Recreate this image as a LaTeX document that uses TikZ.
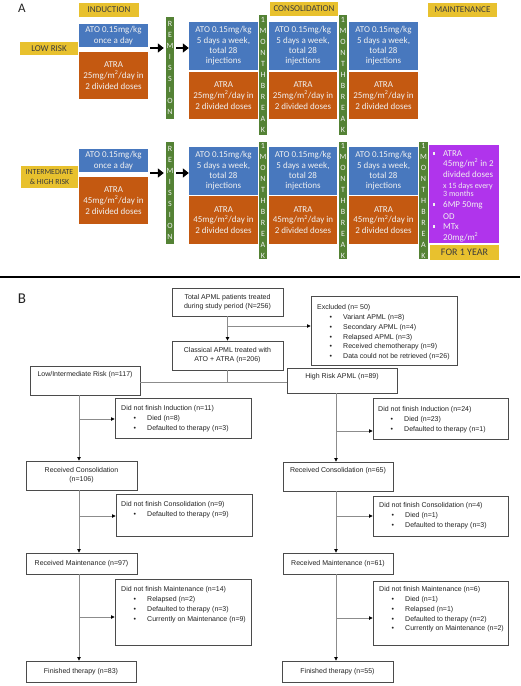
\documentclass[tikz,border=0pt]{standalone}
\usepackage{fontspec}
\setmainfont{Carlito}
\newfontfamily\arialf{Liberation Sans}
\usetikzlibrary{arrows.meta,calc}
\definecolor{hdryel}{RGB}{232,193,46}
\definecolor{atoblue}{RGB}{72,120,190}
\definecolor{atraor}{RGB}{196,89,17}
\definecolor{brkgreen}{RGB}{84,130,53}
\definecolor{mpurple}{RGB}{176,52,236}
\definecolor{boxtext}{RGB}{240,240,240}
\definecolor{hdrtext}{RGB}{60,60,60}
\definecolor{lnGray}{RGB}{140,140,140}
\definecolor{bxGray}{RGB}{75,75,75}
\definecolor{txtdark}{RGB}{35,35,35}
\newcommand{\placebox}[7]{\node[#6, minimum width={(#4-#2)*1pt}, minimum height={(#5-#3)*1pt}] (#1) at ({(#2+#4)/2},{(#3+#5)/2}) {#7};}
\newcommand{\fbul}{\makebox[26pt][l]{\hspace{12.3pt}\textbullet}}
\newcommand{\atotxt}{ATO 0.15mg/kg\\5 days a week,\\total 28\\injections}
\begin{document}
\begin{tikzpicture}[x=1pt,y=-1pt,
  hdr/.style={fill=hdryel, text=hdrtext, inner sep=0pt, align=center, font=\fontsize{9}{10}\selectfont},
  ato/.style={fill=atoblue, text=boxtext, inner sep=1pt, align=center, font=\fontsize{9}{10.4}\selectfont},
  atra/.style={fill=atraor, text=boxtext, inner sep=1pt, align=center, font=\fontsize{9}{10.8}\selectfont},
  gbar/.style={fill=brkgreen, text=boxtext, inner sep=0pt, align=center, font=\fontsize{8}{11}\selectfont},
  mbox/.style={fill=mpurple, inner sep=0pt},
  mtxt/.style={anchor=base west, inner sep=0pt, text=boxtext, font=\fontsize{9}{10}\selectfont},
  msml/.style={mtxt, font=\fontsize{8}{9}\selectfont},
  bigarr/.style={line width=2.6pt, -{Triangle[length=6pt,width=9pt]}},
  fbox/.style={draw=bxGray, line width=0.7pt, fill=white, inner sep=1pt, align=center, text=txtdark, font=\arialf\fontsize{7}{9}\selectfont},
  ftext/.style={inner sep=0pt, align=left, anchor=north west, text=txtdark, font=\arialf\fontsize{7}{9.8}\selectfont},
  fline/.style={draw=lnGray, line width=0.7pt},
  farr/.style={fline, -{Triangle[length=3.5pt,width=3.4pt,color=black]}}
]
\useasboundingbox (0,0) rectangle (520,686);
\fill[white] (0,0) rectangle (520,686);

% ---------- Part A ----------
\node[text=txtdark, inner sep=0pt, font=\fontsize{13}{14}\selectfont] (labA) at (22,8) {A};
\placebox{hind}{79}{3}{139}{17}{hdr}{INDUCTION}
\placebox{hcon}{270}{2}{338}{16}{hdr}{CONSOLIDATION}
\placebox{hmain}{428}{3}{497}{17}{hdr}{MAINTENANCE}

% row 1
\placebox{lowrisk}{20}{42}{78}{55}{hdr}{LOW RISK}
\placebox{iato1}{79}{24}{148}{47}{ato}{ATO 0.15mg/kg\\once a day}
\placebox{iatra1}{79}{52}{148}{99}{atra}{ATRA\\25mg/m\textsuperscript{2}/day in\\2 divided doses}
\placebox{rem1}{166}{17}{174}{119}{gbar}{R\\E\\M\\I\\S\\S\\I\\O\\N}
\placebox{caa1}{189}{22}{258}{70}{ato}{\atotxt}
\placebox{car1}{189}{72}{258}{119}{atra}{ATRA\\25mg/m\textsuperscript{2}/day in\\2 divided doses}
\placebox{brka1}{259}{15}{267}{135}{gbar}{1\\M\\O\\N\\T\\H\\B\\R\\E\\A\\K}
\placebox{cba1}{269}{22}{337}{70}{ato}{\atotxt}
\placebox{cbr1}{269}{72}{337}{119}{atra}{ATRA\\25mg/m\textsuperscript{2}/day in\\2 divided doses}
\placebox{brkb1}{339}{15}{347}{135}{gbar}{1\\M\\O\\N\\T\\H\\B\\R\\E\\A\\K}
\placebox{cca1}{349}{22}{418}{70}{ato}{\atotxt}
\placebox{ccr1}{349}{72}{418}{119}{atra}{ATRA\\25mg/m\textsuperscript{2}/day in\\2 divided doses}
\coordinate (r1y) at (0,48);
\draw[bigarr] ([xshift=2pt]iato1.east |- r1y) -- ([xshift=-2pt]rem1.west |- r1y);
\draw[bigarr] ([xshift=2pt]rem1.east |- r1y) -- (caa1.west |- r1y);

% row 2
\placebox{highrisk}{21}{166}{78}{188}{hdr, font=\fontsize{7.8}{9.3}\selectfont}{INTERMEDIATE\\\& HIGH RISK}
\placebox{iato2}{79}{149}{148}{172}{ato}{ATO 0.15mg/kg\\once a day}
\placebox{iatra2}{79}{177}{148}{224}{atra}{ATRA\\45mg/m\textsuperscript{2}/day in\\2 divided doses}
\placebox{rem2}{166}{142}{174}{244}{gbar}{R\\E\\M\\I\\S\\S\\I\\O\\N}
\placebox{caa2}{189}{147}{258}{195}{ato}{\atotxt}
\placebox{car2}{189}{196}{258}{244}{atra}{ATRA\\45mg/m\textsuperscript{2}/day in\\2 divided doses}
\placebox{brka2}{259}{142}{267}{259}{gbar}{1\\M\\O\\N\\T\\H\\B\\R\\E\\A\\K}
\placebox{cba2}{269}{147}{337}{195}{ato}{\atotxt}
\placebox{cbr2}{269}{196}{337}{244}{atra}{ATRA\\45mg/m\textsuperscript{2}/day in\\2 divided doses}
\placebox{brkb2}{339}{142}{347}{259}{gbar}{1\\M\\O\\N\\T\\H\\B\\R\\E\\A\\K}
\placebox{cca2}{349}{147}{418}{195}{ato}{\atotxt}
\placebox{ccr2}{349}{196}{418}{244}{atra}{ATRA\\45mg/m\textsuperscript{2}/day in\\2 divided doses}
\placebox{brkc2}{419}{142}{428}{259}{gbar}{1\\M\\O\\N\\T\\H\\B\\R\\E\\A\\K}
\placebox{maint}{429}{145}{499}{243}{mbox}{}
\placebox{oneyr}{430}{245}{499}{260}{hdr, font=\fontsize{10}{11}\selectfont}{FOR 1 YEAR}
\coordinate (r2y) at (0,173);
\draw[bigarr] ([xshift=2pt]iato2.east |- r2y) -- ([xshift=-2pt]rem2.west |- r2y);
\draw[bigarr] ([xshift=2pt]rem2.east |- r2y) -- (caa2.west |- r2y);

% maintenance text
\node[mtxt] (mb1) at (433,154.5) {\rule{2.2pt}{2.2pt}};
\node[mtxt] (mb2) at (433,205.5) {\rule{2.2pt}{2.2pt}};
\node[mtxt] (mb3) at (433,227.5) {\rule{2.2pt}{2.2pt}};
\node[mtxt] (m1) at (443,156) {ATRA};
\node[mtxt] (m2) at (443,166) {45mg/m\textsuperscript{2} in 2};
\node[mtxt] (m3) at (443,177) {divided doses};
\node[msml] (m4) at (443,188.6) {x 15 days every};
\node[msml] (m5) at (443,196.6) {3 months};
\node[mtxt] (m6) at (443,207) {6MP 50mg};
\node[mtxt] (m7) at (443,219) {OD};
\node[mtxt] (m8) at (443,229) {MTx};
\node[mtxt] (m9) at (443,240) {20mg/m\textsuperscript{2}};

% divider
\draw[line width=1.6pt, black] (0,277) -- (520,277);

% ---------- Part B ----------
\node[text=txtdark, inner sep=0pt, font=\fontsize{15}{16}\selectfont] (labB) at (22,299) {B};

\placebox{total}{172}{288}{283}{316}{fbox}{Total APML patients treated\\during study period (N=256)}
\placebox{excl}{311}{296}{457}{365}{fbox}{}
\node[ftext] (exclt) at (317,304.4) {Excluded (n= 50)\\\fbul Variant APML (n=8)\\\fbul Secondary APML (n=4)\\\fbul Relapsed APML (n=3)\\\fbul Received chemotherapy (n=9)\\\fbul Data could not be retrieved (n=26)};
\placebox{classical}{172}{341}{283}{370}{fbox}{Classical APML treated with\\ATO + ATRA (n=206)}
\placebox{low}{30}{366}{140}{395}{fbox}{}
\node[fbox, draw=none, fill=none, inner sep=0pt] (lowt) at (85,375) {Low/Intermediate Risk (n=117)};
\placebox{high}{287}{368}{397}{393}{fbox}{}
\node[fbox, draw=none, fill=none, inner sep=0pt] (hight) at (342,377) {High Risk APML (n=89)};

% low column
\placebox{dnfl1}{115}{398}{251}{438}{fbox}{}
\node[ftext] (dnfl1t) at (121,405.4) {Did not finish Induction (n=11)\\\fbul Died (n=8)\\\fbul Defaulted to therapy (n=3)};
\placebox{rc1}{26}{461}{137}{490}{fbox}{Received Consolidation\\(n=106)}
\placebox{dnfl2}{116}{494}{252}{536}{fbox}{}
\node[ftext] (dnfl2t) at (121,501.4) {Did not finish Consolidation (n=9)\\\fbul Defaulted to therapy (n=9)};
\placebox{rm1}{26}{553}{137}{574}{fbox}{Received Maintenance (n=97)}
\placebox{dnfl3}{115}{579}{251}{645}{fbox}{}
\node[ftext] (dnfl3t) at (121,586.4) {Did not finish Maintenance (n=14)\\\fbul Relapsed (n=2)\\\fbul Defaulted to therapy (n=3)\\\fbul Currently on Maintenance (n=9)};
\placebox{fin1}{26}{661}{136}{682}{fbox}{Finished therapy (n=83)}

% high column
\placebox{dnfh1}{373}{398}{508}{439}{fbox}{}
\node[ftext] (dnfh1t) at (378,406.4) {Did not finish Induction (n=24)\\\fbul Died (n=23)\\\fbul Defaulted to therapy (n=1)};
\placebox{rch}{283}{462}{393}{491}{fbox}{}
\node[fbox, draw=none, fill=none, inner sep=0pt] (rcht) at (338,471) {Received Consolidation (n=65)};
\placebox{dnfh2}{373}{496}{508}{536}{fbox}{}
\node[ftext] (dnfh2t) at (379,502.4) {Did not finish Consolidation (n=4)\\\fbul Died (n=1)\\\fbul Defaulted to therapy (n=3)};
\placebox{rmh}{283}{553}{393}{574}{fbox}{Received Maintenance (n=61)}
\placebox{dnfh3}{373}{581}{508}{645}{fbox}{}
\node[ftext] (dnfh3t) at (379,586.4) {Did not finish Maintenance (n=6)\\\fbul Died (n=1)\\\fbul Relapsed (n=1)\\\fbul Defaulted to therapy (n=2)\\\fbul Currently on Maintenance (n=2)};
\placebox{finh}{282}{661}{393}{682}{fbox}{Finished therapy (n=55)}

% connectors
\coordinate (bx) at (227.5,326);
\coordinate (split) at (227.5,382);
\coordinate (lx) at (79,0);
\coordinate (hx) at (336,0);
\draw[farr] (total) -- (classical);
\draw[farr] (bx) -- (bx -| excl.west);
\draw[fline] (classical) -- (split);
\draw[fline] (low.east |- split) -- (high.west |- split);

\draw[farr] (low.south -| lx) -- (rc1.north -| lx);
\draw[farr] ([yshift=-1pt]dnfl1.west -| lx) -- ([yshift=-1pt]dnfl1.west);
\draw[farr] (rc1.south -| lx) -- (rm1.north -| lx);
\draw[farr] ([yshift=-1pt]dnfl2.west -| lx) -- ([yshift=-1pt]dnfl2.west);
\draw[farr] (rm1.south -| lx) -- (fin1.north -| lx);
\draw[farr] ([yshift=-5pt]dnfl3.west -| lx) -- ([yshift=-5pt]dnfl3.west);

\draw[farr] (high.south -| hx) -- (rch.north -| hx);
\draw[farr] ([yshift=-12.5pt]dnfh1.west -| hx) -- ([yshift=-12.5pt]dnfh1.west);
\draw[farr] (rch.south -| hx) -- (rmh.north -| hx);
\draw[farr] (dnfh2.west -| hx) -- (dnfh2.west);
\draw[farr] (rmh.south -| hx) -- (finh.north -| hx);
\draw[farr] ([yshift=-5pt]dnfh3.west -| hx) -- ([yshift=-5pt]dnfh3.west);
\end{tikzpicture}
\end{document}
